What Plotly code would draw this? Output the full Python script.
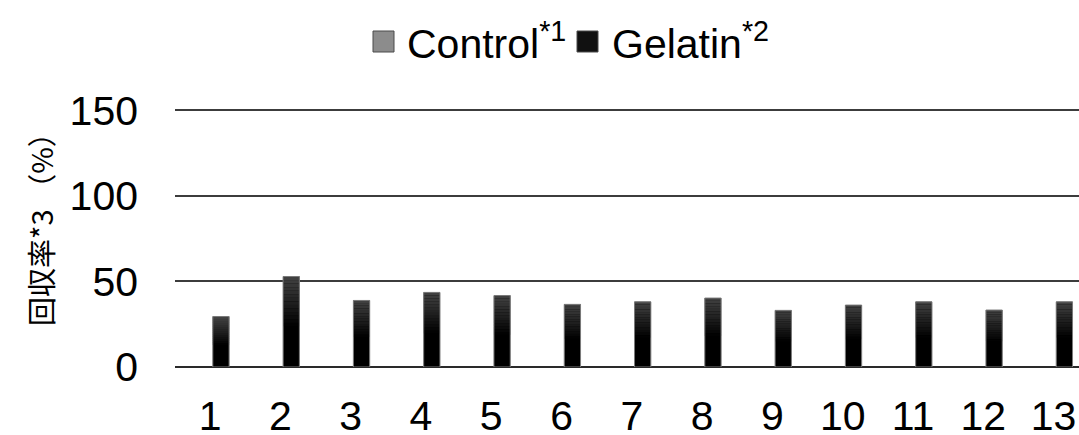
import plotly.graph_objects as go

# Sample numbers on the x axis
samples = ["1", "2", "3", "4", "5", "6", "7", "8", "9", "10", "11", "12", "13"]
# Recovery rate (%) per sample
control = [0, 0, 0, 0, 0, 0, 0, 0, 0, 0, 0, 0, 0]
gelatin = [29.5, 52.9, 38.9, 43.6, 41.8, 36.6, 38.1, 40.3, 33.1, 36.2, 38.1, 33.3, 38.1]
y_ticks = [0, 50, 100, 150]
series_names = ["Control<sup>*1</sup>", "Gelatin<sup>*2</sup>"]
series_colors = ["#8c8c8c", "#111111"]
y_title = "回収率*3 （%）"

FONT = "Liberation Sans, Arial, sans-serif"
CJK = "Noto Sans CJK JP, sans-serif"
FS = 41

BAR_W = 0.232
GEL_OFF = 0.038
CTRL_OFF = GEL_OFF - BAR_W - 0.04

W, H = 1079, 435
ML, MR, MT, MB = 175, 0, 107, 68
PW, PH = W - ML - MR, H - MT - MB


def px_x(x):
    return (x - ML) / PW


def px_y(y):
    return (H - MB - y) / PH


fig = go.Figure()

# Control series
fig.add_trace(go.Bar(x=samples, y=control, width=BAR_W, offset=CTRL_OFF,
                     marker=dict(color=series_colors[0], line=dict(width=0)),
                     showlegend=False))

# Gelatin series: black body with a dark-grey sheen fading in towards the top
fig.add_trace(go.Bar(x=samples, y=gelatin, width=BAR_W, offset=GEL_OFF,
                     marker=dict(color="#000000", line=dict(width=0)),
                     showlegend=False))
n_bands = 14
start = 0.45
for k in range(n_bands):
    f0 = start + (1 - start) * k / n_bands
    f1 = start + (1 - start) * (k + 1) / n_bands
    g = int(round(0x42 * (k + 0.5) / n_bands))
    col = f"rgb({g},{g},{g})"
    fig.add_trace(go.Bar(x=samples, y=[v * (f1 - f0) for v in gelatin],
                         base=[v * f0 for v in gelatin],
                         width=BAR_W, offset=GEL_OFF,
                         marker=dict(color=col, line=dict(width=0)),
                         showlegend=False, hoverinfo="skip"))
# outline
fig.add_trace(go.Bar(x=samples, y=gelatin, width=BAR_W, offset=GEL_OFF,
                     marker=dict(color="rgba(0,0,0,0)",
                                 line=dict(color="#7a7a7a", width=1)),
                     showlegend=False, hoverinfo="skip"))

# Legend: key squares and labels across the top
legend_items = [(373, 405), (577, 610)]
shapes, annots = [], []
for (sx, tx), name, col in zip(legend_items, series_names, series_colors):
    shapes.append(dict(type="rect", xref="paper", yref="paper",
                       x0=px_x(sx), x1=px_x(sx + 21), y0=px_y(52), y1=px_y(31),
                       fillcolor=col, line=dict(color="#4a4a4a", width=1)))
    annots.append(dict(text=name, xref="paper", yref="paper", x=px_x(tx), y=px_y(41),
                       xanchor="left", yanchor="middle", showarrow=False,
                       font=dict(family=FONT, size=FS, color="#000000")))

# Y-axis title
annots.append(dict(text=y_title, xref="paper", yref="paper", x=px_x(40), y=px_y(222),
                   xanchor="center", yanchor="middle", textangle=-90, showarrow=False,
                   font=dict(family=CJK, size=29, color="#000000")))

fig.update_layout(
    width=W, height=H,
    margin=dict(l=ML, r=MR, t=MT, b=MB),
    paper_bgcolor="white", plot_bgcolor="white",
    barmode="overlay", showlegend=False,
    font=dict(family=FONT, size=FS, color="#000000"),
    shapes=shapes, annotations=annots,
    xaxis=dict(range=[-0.5, 12.362], showgrid=False, showline=False, ticks="",
               tickfont=dict(family=FONT, size=FS), ticklabelstandoff=21,
               zeroline=False, automargin=False),
    yaxis=dict(range=[0, 152], tickvals=y_ticks, showgrid=True,
               gridcolor="#3c3c3c", gridwidth=1.5, zeroline=True,
               zerolinecolor="#2a2a2a", zerolinewidth=2, showline=False, ticks="",
               tickfont=dict(family=FONT, size=FS), ticklabelstandoff=36,
               automargin=False),
)

fig.write_html("out.html")
